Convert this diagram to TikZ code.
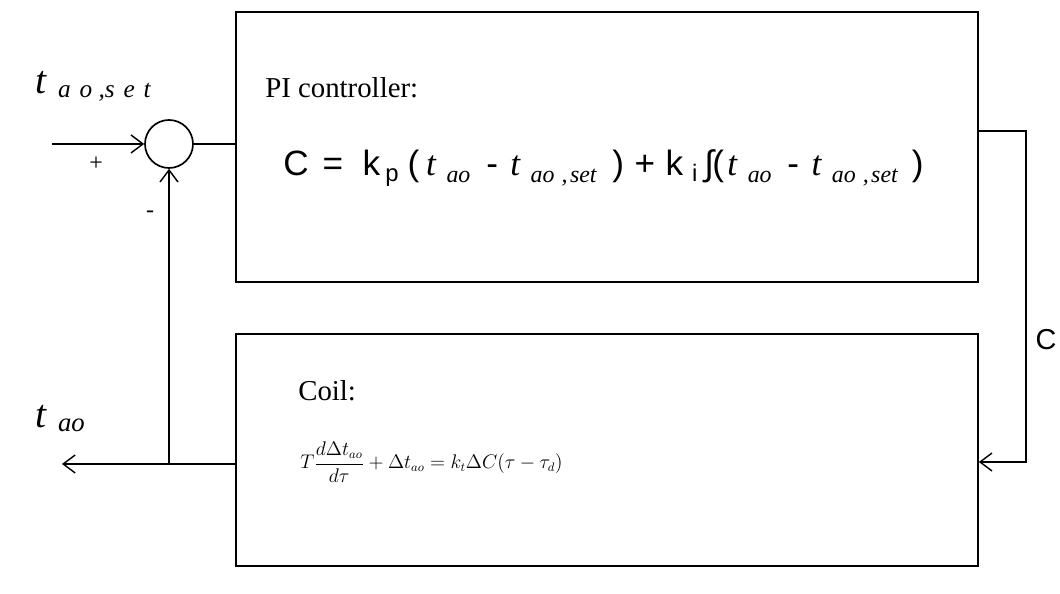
\documentclass[tikz,border=0pt]{standalone}
\usepackage{fontspec}
\setmainfont{Liberation Serif}
\newfontfamily\arialfont{Liberation Sans}
\usetikzlibrary{arrows.meta}

% t with a lowered subscript (PI equation)
\newcommand{\eqt}[1]{{\rmfamily\itshape t\hspace{0.3em}\raisebox{-0.4ex}{\fontsize{17}{17}\selectfont #1}}}
% small lowered index
\newcommand{\lowix}[1]{\raisebox{-0.3ex}{\fontsize{17}{17}\selectfont #1}}

\begin{document}
\begin{tikzpicture}[
    font=\fontsize{20.5}{24}\selectfont,
    block/.style={rectangle, draw=black, line width=1.2pt, minimum width=18.55cm, inner sep=0},
    wire/.style={line width=1.2pt},
    arr/.style={wire, -{Straight Barb[length=3mm,width=4.5mm,line width=1pt]}}
]
\useasboundingbox (0,0) rectangle (26.5,14.85);

% ============================================
% BLOQUES
% ============================================
\node[block, minimum height=6.75cm] (pi) at (15.175, 11.175) {};
\node[block, minimum height=5.8cm] (coil) at (15.175, 3.6) {};

% Sumador
\node[circle, draw=black, line width=1.2pt, minimum size=1.2cm, inner sep=0] (sum) at (4.225, 11.25) {};

% ============================================
% TEXTOS
% ============================================
\node[anchor=base west, inner sep=0] (pititle) at (6.625, 12.4) {PI controller:};
\node[anchor=base west, inner sep=0] (pieq) at (7.075, 10.45)
  {\fontsize{25}{28}\selectfont\arialfont
   C\hspace{0.4em}=\hspace{0.55em}k\hspace{0.15em}\lowix{p}\hspace{0.25em}(\hspace{0.2em}\eqt{ao}\hspace{0.45em}-\hspace{0.35em}\eqt{ao\hspace{0.3em},\hspace{0.1em}set}\hspace{0.45em})\hspace{0.3em}+\hspace{0.3em}k\hspace{0.25em}\lowix{i}\hspace{0.2em}∫\hspace{-0.05em}(\hspace{0.1em}\eqt{ao}\hspace{0.45em}-\hspace{0.35em}\eqt{ao\hspace{0.3em},\hspace{0.1em}set}\hspace{0.4em})};

\node[anchor=base west, inner sep=0] (coiltitle) at (7.45, 4.83) {Coil:};
\node[anchor=west, inner sep=0] (coileq) at (7.5, 3.3)
  {\scalebox{0.975}{\fontsize{13.5}{15}\selectfont $\displaystyle T\frac{d\Delta t_{ao}}{d\tau}+\Delta t_{ao}=k_t\Delta C(\tau-\tau_d)$}};

\node[anchor=base west, inner sep=0] (lset) at (0.875, 12.5)
  {\fontsize{28}{30}\selectfont\itshape t\hspace{0.3em}\raisebox{-0.2ex}{\fontsize{18}{18}\selectfont a\hspace{0.35em}o\hspace{0.25em},s\hspace{0.35em}e\hspace{0.35em}t}};
\node[anchor=base west, inner sep=0] (lout) at (0.875, 4.15)
  {\fontsize{28}{30}\selectfont\itshape t\hspace{0.3em}\raisebox{-0.2ex}{\fontsize{19}{19}\selectfont ao}};

\node (plus) at (2.4, 10.75) {\fontsize{17}{17}\selectfont +};
\node (minus) at (3.75, 9.5) {\fontsize{17}{17}\selectfont -};
\node (lc) at (26.15, 6.35) {\arialfont C};

% ============================================
% CONEXIONES
% ============================================
\coordinate (in) at (1.3, 11.25);
\coordinate (out) at (1.55, 3.25);
\coordinate (fb) at (4.225, 3.25);

\draw[arr] (in) -- (sum.west);
\draw[wire] (sum.east) -- (pi.west |- sum.east);
\draw[arr] ([yshift=-0.35cm]coil.west) -- (out);
\draw[arr] (fb) -- (sum.south);
\draw[arr] ([yshift=0.4cm]pi.east) -- ++(1.175,0) |- ([yshift=-0.3cm]coil.east);

\end{tikzpicture}
\end{document}
